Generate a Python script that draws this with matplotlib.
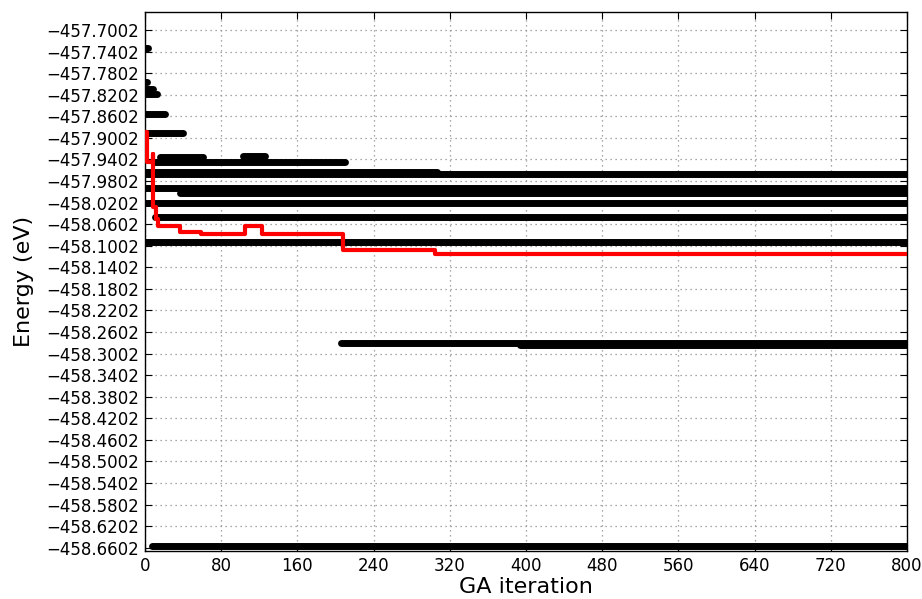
import matplotlib
matplotlib.use("Agg")
import matplotlib.pyplot as plt
from matplotlib.ticker import FuncFormatter

# Black population bars: energy (eV), start iteration, end iteration
bar_energy = [-457.7337, -457.7969, -457.8099, -457.8192, -457.8563, -457.8916,
              -457.9456, -457.9363, -457.9344, -457.9641, -457.9679, -457.9930,
              -458.0022, -458.0218, -458.0478, -458.0942, -458.2801, -458.2838,
              -458.6565]
bar_start = [0, 0, 0, 0, 0, 0,
             10.5, 16, 103, 0, 0, 0,
             37, 0, 10, 0, 206, 394,
             7.5]
bar_end = [3, 2, 8, 13, 21, 40,
           210, 61, 126, 307, 800, 800,
           800, 800, 800, 800, 800, 800,
           800]

# Red curve (step)
red_iter = [0, 1.8, 8, 8.7, 11.5, 13.6, 36.7, 59, 105, 122.8, 208, 304.5, 800]
red_energy = [-457.8898, -457.9456, -457.9307, -458.0292, -458.0515, -458.0645,
              -458.0757, -458.0794, -458.0645, -458.0794, -458.1091, -458.1147,
              -458.1147]

x_ticks = [0, 80, 160, 240, 320, 400, 480, 560, 640, 720, 800]
y_ticks = [-458.6602, -458.6202, -458.5802, -458.5402, -458.5002, -458.4602,
           -458.4202, -458.3802, -458.3402, -458.3002, -458.2602, -458.2202,
           -458.1802, -458.1402, -458.1002, -458.0602, -458.0202, -457.9802,
           -457.9402, -457.9002, -457.8602, -457.8202, -457.7802, -457.7402,
           -457.7002]

fig = plt.figure(figsize=(9.22, 5.99), dpi=100)
ax = fig.add_axes([0.1573, 0.0801, 0.8264, 0.8999])

for e, s, t in zip(bar_energy, bar_start, bar_end):
    ax.plot([s, t], [e, e], color="black", lw=5, solid_capstyle="round", zorder=2)

ax.plot(red_iter, red_energy, color="red", lw=3, drawstyle="steps-post",
        solid_joinstyle="round", solid_capstyle="round", zorder=3)

ax.set_xlim(0, 800)
ax.set_ylim(-458.6664, -457.6668)
ax.set_xticks(x_ticks)
ax.set_yticks(y_ticks)
ax.yaxis.set_major_formatter(FuncFormatter(lambda v, p: f"{v:.4f}".replace("-", "\u2212")))
ax.tick_params(direction="in", top=True, right=True, length=5, labelsize=12, pad=4)
ax.grid(True, color="0.55", linestyle=(0, (1, 3)), lw=0.9)
ax.set_axisbelow(True)
for sp in ax.spines.values():
    sp.set_linewidth(1.0)

ax.set_xlabel("GA iteration", fontsize=16, labelpad=2)
ax.set_ylabel("Energy (eV)", fontsize=16, labelpad=9)

fig.savefig("out.png", dpi=100)
